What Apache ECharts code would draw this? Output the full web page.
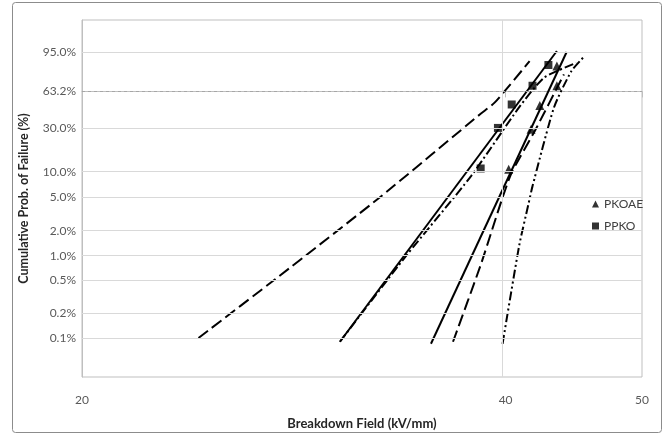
<!DOCTYPE html>
<html>
<head>
    <meta charset="utf-8">
    <script src="https://cdn.jsdelivr.net/npm/echarts@6/dist/echarts.min.js"></script>
</head>
<body style="margin:0;background:#fff">
<div id="main" style="width:665px;height:435px;"></div>
<script>
    // axis ticks
    var probTicks = [0.1, 0.2, 0.5, 1, 2, 5, 10, 30, 63.2, 95];
    var fieldTicks = [20, 40, 50];

    // measured breakdowns (kV/mm) and their plotting positions (%)
    var pkoaeField = [40.2, 41.7, 42.3, 43.5, 43.5];
    var pkoaeProb = [10.7, 29.3, 49, 69, 86.9];
    var ppkoField = [38.4, 39.5, 40.4, 41.8, 42.9];
    var ppkoProb = [10.9, 30.2, 50, 69, 87.7];

    // weibull fits and bounds, [kV/mm, %]
    var ppkoFit = [[30.5, 0.09], [43.5, 95.5]];
    var ppkoLower = [[24.2, 0.1], [27.6, 0.56], [32.6, 5.1], [38.4, 41.4], [39.3, 52], [41.6, 90.3]];
    var ppkoUpper = [[30.5, 0.09], [34.0, 1.0], [37.8, 8.9], [40.9, 47.4], [42.6, 77], [44.9, 89.2]];
    var pkoaeFit = [[35.4, 0.085], [44.2, 95.1]];
    var pkoaeLower = [[36.7, 0.09], [38.4, 0.77], [40.3, 8.9], [42.0, 28.9], [44.0, 80]];
    var pkoaeUpper = [[39.8, 0.085], [40.9, 1.33], [41.5, 4.0], [41.8, 6.8], [43.3, 47.4], [44.55, 83], [45.4, 92.3]];

    // weibull paper: x = log10(E), y = ln(-ln(1-F))
    function tx(e) { return Math.log10(e); }
    function ty(p) { return Math.log(-Math.log(1 - p / 100)); }
    function pts(arr) { return arr.map(function (d) { return [tx(d[0]), ty(d[1])]; }); }
    function zip(xs, ys) { return xs.map(function (x, i) { return [tx(x), ty(ys[i])]; }); }

    var font = 'Lato';
    var gridColor = '#d9d9d9';

    function curve(data, dash, width) {
        return {
            type: 'line',
            data: pts(data),
            symbol: 'none',
            smooth: 0.2,
            silent: true,
            lineStyle: { color: '#000', width: width || 2, type: dash },
            z: 3
        };
    }

    var gridLines = probTicks.map(function (p) {
        var item = { yAxis: ty(p) };
        if (p === 63.2) item.lineStyle = { color: '#a6a6a6', type: [3, 3], width: 1 };
        return item;
    });
    gridLines.push({ xAxis: tx(40) });

    var myChart = echarts.init(document.getElementById('main'));
    var option = {
        animation: false,
        backgroundColor: '#fff',
        graphic: [{
            type: 'rect',
            shape: { x: 12.5, y: 2.5, width: 649, height: 430, r: 3 },
            style: { fill: 'none', stroke: '#8c8c8c', lineWidth: 1 },
            silent: true
        }],
        grid: {
            left: 82, right: 23, top: 20, bottom: 51,
            show: true, borderColor: '#bfbfbf', borderWidth: 1
        },
        legend: {
            data: [
                { name: 'PKOAE', icon: 'triangle' },
                { name: 'PPKO', icon: 'rect' }
            ],
            orient: 'vertical',
            left: 587, top: 193,
            itemWidth: 7, itemHeight: 7, itemGap: 10,
            textStyle: { fontFamily: font, fontSize: 12, color: '#404040' }
        },
        xAxis: {
            type: 'value',
            min: tx(20), max: tx(50),
            name: 'Breakdown Field (kV/mm)',
            nameLocation: 'middle', nameGap: 40,
            nameTextStyle: { fontFamily: font, fontSize: 13, fontWeight: 'bold', color: '#262626' },
            axisLine: { lineStyle: { color: '#bfbfbf' } },
            axisTick: { show: true, length: 6, lineStyle: { color: '#bfbfbf' }, customValues: fieldTicks.map(tx) },
            axisLabel: {
                customValues: fieldTicks.map(tx),
                margin: 17,
                fontFamily: font, fontSize: 12, color: '#595959',
                formatter: function (v) { return Math.round(Math.pow(10, v)); }
            },
            splitLine: { show: false }
        },
        yAxis: {
            type: 'value',
            min: -8, max: 2,
            name: 'Cumulative Prob. of Failure (%)',
            nameLocation: 'middle', nameGap: 52,
            nameTextStyle: { fontFamily: font, fontSize: 12.5, fontWeight: 'bold', color: '#262626' },
            axisLine: { show: true, lineStyle: { color: '#bfbfbf' } },
            axisTick: { show: false },
            axisLabel: {
                customValues: probTicks.map(ty),
                margin: 6,
                fontFamily: font, fontSize: 12, color: '#595959',
                formatter: function (v) {
                    for (var i = 0; i < probTicks.length; i++) {
                        if (Math.abs(ty(probTicks[i]) - v) < 1e-6) return probTicks[i].toFixed(1) + '%';
                    }
                    return '';
                }
            },
            splitLine: { show: false }
        },
        series: [
            {
                name: 'grid',
                type: 'line',
                data: [],
                silent: true,
                z: 1,
                markLine: {
                    silent: true,
                    symbol: 'none',
                    label: { show: false },
                    lineStyle: { color: gridColor, type: 'solid', width: 1 },
                    data: gridLines
                }
            },
            curve(ppkoLower, [12, 5]),
            curve(ppkoFit, 'solid'),
            curve(ppkoUpper, [9, 3, 2, 3]),
            curve(pkoaeLower, [12, 5]),
            curve(pkoaeFit, 'solid'),
            curve(pkoaeUpper, [9, 3, 2, 3, 2, 3]),
            {
                name: 'PKOAE',
                type: 'scatter',
                symbol: 'triangle',
                symbolSize: 9,
                itemStyle: { color: '#000' },
                data: zip(pkoaeField, pkoaeProb),
                z: 4
            },
            {
                name: 'PPKO',
                type: 'scatter',
                symbol: 'rect',
                symbolSize: 8,
                itemStyle: { color: '#000' },
                data: zip(ppkoField, ppkoProb),
                z: 4
            }
        ]
    };
    myChart.setOption(option);
</script>
</body>
</html>
